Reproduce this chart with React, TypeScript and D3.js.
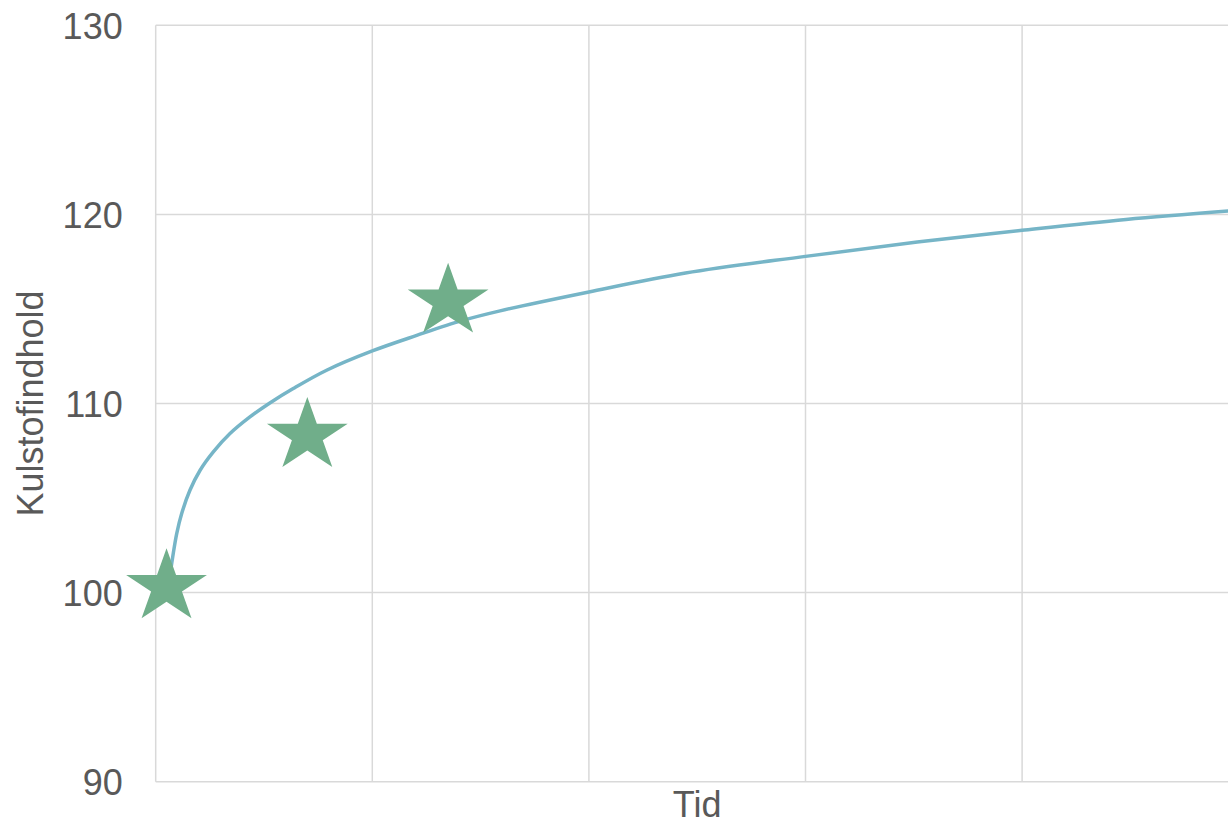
import React from "react";
import * as d3 from "d3";

// Measured samples (time, carbon content)
const obsTime = [0.05, 0.7, 1.35];
const obsCarbon = [100.3, 108.3, 115.4];

// Trend line traced as a smooth curve through these samples
const trendTime = [
  0.062, 0.0785, 0.097, 0.12, 0.158, 0.205, 0.266, 0.343, 0.435, 0.527, 0.635,
  0.789, 1.0, 1.205, 1.413, 1.59, 2.0, 2.446, 3.0, 3.516, 4.0, 4.48, 5.0,
];
const trendCarbon = [
  100.6, 101.88, 103.12, 104.18, 105.41, 106.47, 107.44, 108.41, 109.29, 110.03,
  110.79, 111.76, 112.78, 113.6, 114.38, 114.9, 115.9, 116.9, 117.78, 118.54,
  119.16, 119.73, 120.22,
];

const yTicks = [90, 100, 110, 120, 130];
const xGrid = [0, 1, 2, 3, 4, 5];

const W = 1228;
const H = 824;
const FONT = "'Liberation Sans', Arial, sans-serif";
const TEXT = "#595959";
const GRID = "#d9d9d9";

export default function App() {
  const x = d3.scaleLinear().domain([0, 5]).range([155.7, 1238.7]);
  const y = d3.scaleLinear().domain([90, 130]).range([781.7, 25.3]);

  const trend = trendTime.map((t, i) => [t, trendCarbon[i]] as [number, number]);
  const line = d3
    .line<[number, number]>()
    .x((d) => x(d[0]))
    .y((d) => y(d[1]))
    .curve(d3.curveCatmullRom.alpha(0.5));

  const R = 38.6;
  const star = d3.symbol().type(d3.symbolStar).size((R * R) / 0.8908130915292852)();

  const [x0, x1] = x.range();
  const [yb, yt] = y.range();

  return (
    <svg
      width={W}
      height={H}
      style={{ position: "absolute", left: 0, top: 0, overflow: "hidden", background: "#fff" }}
    >
      {/* horizontal gridlines */}
      {yTicks.map((v) => (
        <line key={"h" + v} x1={x0} x2={x1} y1={y(v)} y2={y(v)} stroke={GRID} strokeWidth={1.5} />
      ))}
      {/* vertical gridlines */}
      {xGrid.map((v) => (
        <line key={"v" + v} x1={x(v)} x2={x(v)} y1={yt} y2={yb} stroke={GRID} strokeWidth={1.5} />
      ))}
      {/* y tick labels */}
      {yTicks.map((v) => (
        <text
          key={"t" + v}
          x={x0 - 33}
          y={y(v) + 13.5}
          textAnchor="end"
          fontFamily={FONT}
          fontSize={36}
          fill={TEXT}
        >
          {v}
        </text>
      ))}
      {/* axis titles */}
      <text
        transform={`translate(43.3, ${(yt + yb) / 2}) rotate(-90)`}
        textAnchor="middle"
        fontFamily={FONT}
        fontSize={36}
        fill={TEXT}
      >
        Kulstofindhold
      </text>
      <text x={(x0 + x1) / 2} y={817} textAnchor="middle" fontFamily={FONT} fontSize={36} fill={TEXT}>
        Tid
      </text>
      {/* trend line */}
      <path d={line(trend) || ""} fill="none" stroke="#76b5c7" strokeWidth={3.5} />
      {/* measured points */}
      {obsTime.map((t, i) => (
        <path
          key={"s" + i}
          d={star || ""}
          transform={`translate(${x(t)}, ${y(obsCarbon[i])}) scale(1.1, 1)`}
          fill="#70ae8a"
        />
      ))}
    </svg>
  );
}
